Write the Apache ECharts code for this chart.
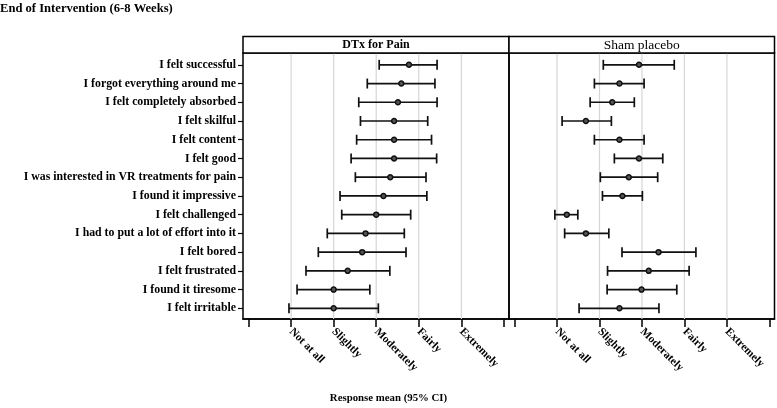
<!DOCTYPE html>
<html>
<head>
<meta charset="utf-8">
<script src="https://cdn.jsdelivr.net/npm/echarts@6/dist/echarts.min.js"></script>
<style>html,body{margin:0;padding:0;background:#fff}#c{width:777px;height:408px}</style>
</head>
<body>
<div id="c"></div>
<script>
const chartTitle = 'End of Intervention (6-8 Weeks)';
const axisTitle = 'Response mean (95% CI)';
const panelTitles = ['DTx for Pain', 'Sham placebo'];
const categories = [
  'I felt successful', 'I forgot everything around me', 'I felt completely absorbed',
  'I felt skilful', 'I felt content', 'I felt good', 'I was interested in VR treatments for pain',
  'I found it impressive', 'I felt challenged', 'I had to put a lot of effort into it',
  'I felt bored', 'I felt frustrated', 'I found it tiresome', 'I felt irritable'
];
const tickLabels = ['Not at all', 'Slightly', 'Moderately', 'Fairly', 'Extremely'];
const tickValues = [1, 2, 3, 4, 5];
const tickMarks = [0, 1, 2, 3, 4, 5, 6];

const dtxMean = [3.77, 3.59, 3.51, 3.42, 3.42, 3.42, 3.33, 3.17, 3.00, 2.75, 2.67, 2.33, 2.00, 2.00];
const dtxLow  = [3.07, 2.79, 2.59, 2.63, 2.54, 2.41, 2.51, 2.15, 2.19, 1.85, 1.64, 1.35, 1.14, 0.95];
const dtxHigh = [4.43, 4.38, 4.43, 4.21, 4.30, 4.42, 4.17, 4.19, 3.81, 3.66, 3.70, 3.32, 2.85, 3.05];

const shamMean = [2.93, 2.47, 2.30, 1.68, 2.47, 2.93, 2.69, 2.54, 1.23, 1.68, 3.39, 3.16, 2.99, 2.47];
const shamLow  = [2.09, 1.88, 1.78, 1.12, 1.88, 2.35, 2.02, 2.07, 0.95, 1.18, 2.53, 2.19, 2.18, 1.52];
const shamHigh = [3.76, 3.05, 2.82, 2.28, 3.05, 3.49, 3.37, 3.01, 1.49, 2.22, 4.27, 4.11, 3.82, 3.40];

const panels = [
  { mean: dtxMean, low: dtxLow, high: dtxHigh },
  { mean: shamMean, low: shamLow, high: shamHigh }
];

const X_MIN = -0.13, X_MAX = 6.12;
const Y_MIN = -0.63, Y_MAX = 13.57;
const FONT = '"Liberation Serif", "DejaVu Serif", serif';
const idx = categories.map((c, i) => i);

const chart = echarts.init(document.getElementById('c'), null, { renderer: 'canvas' });

const grids = [
  { left: 243, top: 53, width: 266, height: 266 },
  { left: 509, top: 53, width: 265.5, height: 266 }
].map(g => Object.assign(g, { show: true, borderColor: '#000', borderWidth: 1.5, containLabel: false }));

const xAxes = [0, 1].map(k => ({
  type: 'value', gridIndex: k, min: X_MIN, max: X_MAX, position: 'bottom',
  splitLine: { show: false },
  axisLine: { show: true, onZero: false, lineStyle: { color: '#000', width: 1.5 } },
  axisTick: { show: true, customValues: tickMarks, length: 8, lineStyle: { color: '#000', width: 1.5 } },
  axisLabel: {
    show: true, customValues: tickValues, rotate: -45, margin: 11,
    formatter: v => tickLabels[Math.round(v) - 1],
    fontFamily: FONT, fontWeight: 'bold', fontSize: 11.3, color: '#000'
  }
}));

const yAxes = [0, 1].map(k => ({
  type: 'value', gridIndex: k, inverse: true, min: Y_MIN, max: Y_MAX, position: 'left',
  splitLine: { show: false },
  axisLine: { show: false, onZero: false },
  axisTick: k === 0 ? { show: true, customValues: idx, length: 5, lineStyle: { color: '#000', width: 1.2 } } : { show: false },
  axisLabel: k === 0 ? {
    show: true, customValues: idx, margin: 7,
    formatter: v => categories[Math.round(v)],
    fontFamily: FONT, fontWeight: 'bold', fontSize: 11.8, color: '#000'
  } : { show: false }
}));

const series = [];
panels.forEach((p, k) => {
  // reference lines at labelled ticks
  series.push({
    type: 'custom', xAxisIndex: k, yAxisIndex: k, silent: true, z: 1,
    data: tickValues.map(v => [v]),
    encode: { x: 0 },
    renderItem: (params, api) => {
      const v = api.value(0);
      const a = api.coord([v, Y_MIN]);
      const b = api.coord([v, Y_MAX]);
      return { type: 'line', shape: { x1: a[0], y1: a[1], x2: b[0], y2: b[1] },
        style: { stroke: '#d6d6d6', lineWidth: 1.2 } };
    }
  });
  // error bars
  series.push({
    type: 'custom', xAxisIndex: k, yAxisIndex: k, silent: true, z: 2,
    data: idx.map(i => [p.low[i], p.high[i], i]),
    encode: { x: [0, 1], y: 2 },
    renderItem: (params, api) => {
      const lo = api.coord([api.value(0), api.value(2)]);
      const hi = api.coord([api.value(1), api.value(2)]);
      const h = 5;
      const st = { stroke: '#111', lineWidth: 1.7 };
      return { type: 'group', children: [
        { type: 'line', shape: { x1: lo[0], y1: lo[1], x2: hi[0], y2: hi[1] }, style: st },
        { type: 'line', shape: { x1: lo[0], y1: lo[1] - h, x2: lo[0], y2: lo[1] + h }, style: st },
        { type: 'line', shape: { x1: hi[0], y1: hi[1] - h, x2: hi[0], y2: hi[1] + h }, style: st }
      ] };
    }
  });
  // means
  series.push({
    type: 'scatter', xAxisIndex: k, yAxisIndex: k, silent: true, z: 3,
    data: idx.map(i => [p.mean[i], i]),
    symbol: 'circle', symbolSize: 5,
    itemStyle: { color: '#555', borderColor: '#111', borderWidth: 1.5, opacity: 1 }
  });
});

const headerGraphics = [];
[[243, 266], [509, 265.5]].forEach((g, k) => {
  headerGraphics.push({
    type: 'rect', shape: { x: g[0], y: 36.5, width: g[1], height: 16.5 },
    style: { fill: '#fff', stroke: '#000', lineWidth: 1.5 }, z: 10
  });
  headerGraphics.push({
    type: 'text', x: g[0] + g[1] / 2, y: 45, z: 11,
    style: { text: panelTitles[k], fill: '#000', font: (k === 0 ? 'bold 12px ' : '13.5px ') + FONT,
      align: 'center', verticalAlign: 'middle' }
  });
});
headerGraphics.push({
  type: 'text', x: 388.5, y: 398, z: 11,
  style: { text: axisTitle, fill: '#000', font: 'bold 10.8px ' + FONT, align: 'center', verticalAlign: 'middle' }
});
headerGraphics.push({
  type: 'text', x: 0, y: 9, z: 11,
  style: { text: chartTitle, fill: '#000', font: 'bold 12.6px ' + FONT, align: 'left', verticalAlign: 'middle' }
});

chart.setOption({
  backgroundColor: '#fff',
  animation: false,
  grid: grids,
  xAxis: xAxes,
  yAxis: yAxes,
  series: series,
  graphic: headerGraphics
});
</script>
</body>
</html>
